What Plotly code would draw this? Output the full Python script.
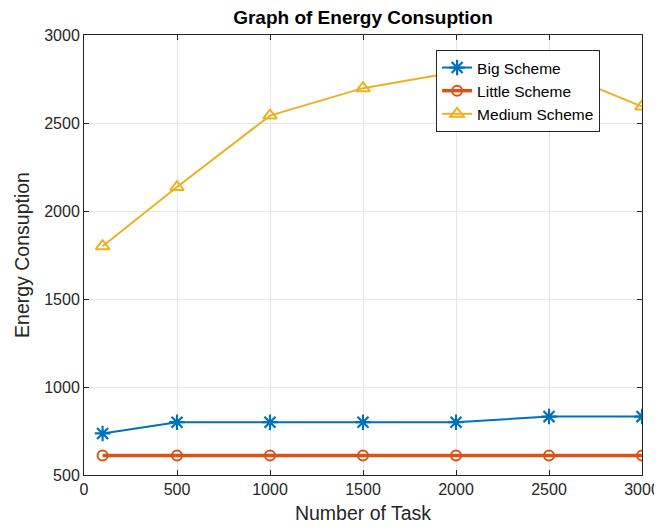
import plotly.graph_objects as go

tasks = [100, 500, 1000, 1500, 2000, 2500, 3000]
big_scheme = [736, 800, 800, 800, 800, 832, 832]
little_scheme = [611, 611, 611, 611, 611, 611, 611]
medium_scheme = [1800, 2136, 2542, 2698, 2790, 2810, 2594]

x_ticks = [0, 500, 1000, 1500, 2000, 2500, 3000]
y_ticks = [500, 1000, 1500, 2000, 2500, 3000]

FONT = "Liberation Sans, Arial, sans-serif"

fig = go.Figure()
fig.add_trace(go.Scatter(
    x=tasks, y=big_scheme, name="Big Scheme", mode="lines+markers",
    line=dict(color="#0072BD", width=2),
    marker=dict(symbol="asterisk-open", size=13, color="#0072BD",
                line=dict(color="#0072BD", width=2.2)),
))
fig.add_trace(go.Scatter(
    x=tasks, y=little_scheme, name="Little Scheme", mode="lines+markers",
    line=dict(color="#D95319", width=3.5),
    marker=dict(symbol="circle-open", size=10, color="#D95319",
                line=dict(color="#D95319", width=2)),
))
fig.add_trace(go.Scatter(
    x=tasks, y=medium_scheme, name="Medium Scheme", mode="lines+markers",
    line=dict(color="#EDB120", width=2),
    marker=dict(symbol="triangle-up-open", size=12, color="#EDB120",
                line=dict(color="#EDB120", width=2)),
))

axis_common = dict(
    showline=True, linecolor="#262626", linewidth=1, mirror="ticks",
    ticks="inside", ticklen=5, tickcolor="#262626",
    showgrid=True, gridcolor="#E6E6E6", gridwidth=1,
    zeroline=False, automargin=False,
    tickfont=dict(family=FONT, size=16, color="#262626"),
)

W, H = 654, 521
fig.update_layout(
    width=W, height=H,
    margin=dict(l=76, r=20, t=27, b=54),
    paper_bgcolor="white", plot_bgcolor="white",
    font=dict(family=FONT, color="#262626"),
    title=dict(text="<b>Graph of Energy Consuption</b>", x=0.5, xanchor="center",
               xref="paper", y=1 - 9 / H, yanchor="middle",
               font=dict(size=19, color="#000000")),
    xaxis=dict(range=[0, 3000], tickvals=x_ticks,
               title=dict(text="Number of Task", font=dict(size=19.5, color="#262626"), standoff=9),
               **axis_common),
    yaxis=dict(range=[500, 3000], tickvals=y_ticks,
               title=dict(text="Energy Consuption", font=dict(size=19.5, color="#262626"), standoff=9),
               **axis_common),
    legend=dict(x=0.631, y=0.966, xanchor="left", yanchor="top",
                bgcolor="white", bordercolor="#262626", borderwidth=1,
                font=dict(size=15.5, color="#000000"), tracegroupgap=0,
                itemwidth=30),
    showlegend=True,
)

fig.write_html("out.html")
